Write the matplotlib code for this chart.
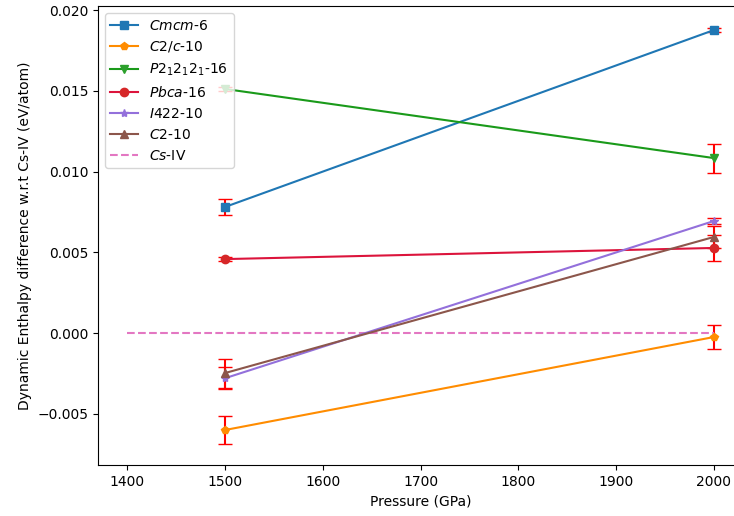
import matplotlib
matplotlib.use("Agg")
import matplotlib.pyplot as plt

pressures = [1500, 2000]
labels = [r'$Cmcm$-6', r'$C2/c$-10', r'$P2_12_12_1$-16', r'$Pbca$-16', r'$I422$-10', r'$C2$-10']
markers = ['s', 'p', 'v', 'o', '*', '^']
line_colors = ['#1f77b4', 'darkorange', '#1a9a1a', 'crimson', 'mediumpurple', '#8c564b']
marker_colors = ['#1f77b4', 'darkorange', '#2ca02c', '#d62728', 'mediumpurple', '#8c564b']
values = [
    [0.00781, 0.01877],
    [-0.00601, -0.00025],
    [0.01512, 0.01084],
    [0.00458, 0.00527],
    [-0.00280, 0.00694],
    [-0.00248, 0.00595],
]
errors = [
    [0.00047, 0.00010],
    [0.00084, 0.00075],
    [0.00010, 0.00090],
    [0.00010, 0.00080],
    [0.00070, 0.00020],
    [0.00090, 0.00070],
]
ref_x = [1400, 2000]
ref_y = [0.0, 0.0]

fig = plt.figure(figsize=(7.34, 5.16), dpi=100)
ax = fig.add_axes([0.1335, 0.0988, 0.879, 0.8895])

for v, e in zip(values, errors):
    ax.errorbar(pressures, v, yerr=e, fmt='none', ecolor='red', capsize=5, zorder=2)
for lab, m, lc, mc, v in zip(labels, markers, line_colors, marker_colors, values):
    ax.plot(pressures, v, '-', marker=m, color=lc, markerfacecolor=mc,
            markeredgecolor=mc, label=lab, zorder=3)
ax.plot(ref_x, ref_y, '--', color='#e377c2', label=r'$Cs$-IV')

ax.set_xlim(1370, 2030)
ax.set_ylim(-0.00818, 0.02026)
ax.set_xlabel('Pressure (GPa)')
ax.set_ylabel('Dynamic Enthalpy difference w.r.t Cs-IV (eV/atom)')
ax.legend(loc='upper left')

fig.savefig('out.png', dpi=100)
